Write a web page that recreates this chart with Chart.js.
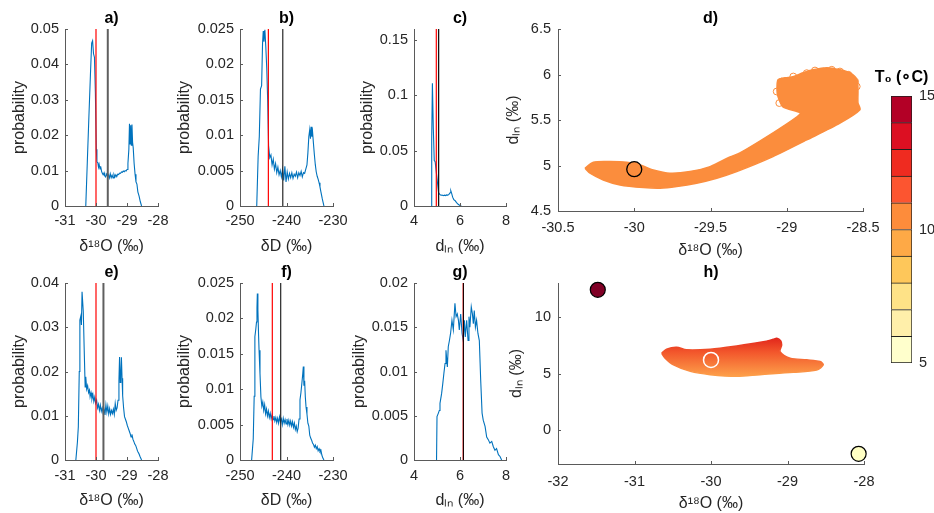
<!DOCTYPE html>
<html><head><meta charset="utf-8">
<script src="https://cdn.jsdelivr.net/npm/chart.js@4.4.0/dist/chart.umd.min.js"></script>
<style>
html,body{margin:0;padding:0;background:#fff;}
#wrap{position:relative;width:934px;height:513px;overflow:hidden;background:#fff;}
#wrap canvas{position:absolute;left:0;top:0;}
</style></head><body>
<div id="wrap">
<canvas id="pa" width="934" height="513"></canvas>
<canvas id="pb" width="934" height="513"></canvas>
<canvas id="pc" width="934" height="513"></canvas>
<canvas id="pd" width="934" height="513"></canvas>
<canvas id="pe" width="934" height="513"></canvas>
<canvas id="pf" width="934" height="513"></canvas>
<canvas id="pg" width="934" height="513"></canvas>
<canvas id="ph" width="934" height="513"></canvas>
<canvas id="pcb" width="934" height="513"></canvas>
</div>
<script>
// ---------------- data ----------------
// a) delta18O histogram
const aX = [-30.33,-30.28,-30.23,-30.18,-30.14,-30.11,-30.08,-30.05,-30.02,-29.99,-29.97,-29.94,-29.92,-29.9,-29.87,-29.85,-29.82,-29.8,-29.77,-29.74,-29.72,-29.69,-29.66,-29.63,-29.6,-29.57,-29.54,-29.51,-29.48,-29.45,-29.42,-29.39,-29.36,-29.33,-29.3,-29.27,-29.24,-29.21,-29.18,-29.15,-29.12,-29.09,-29.06,-29.03,-29.0,-28.97,-28.94,-28.92,-28.9,-28.88,-28.86,-28.84,-28.82,-28.8,-28.77,-28.74,-28.71,-28.68,-28.65,-28.61,-28.57,-28.53];
const aY = [0,0.0125,0.025,0.037,0.046,0.0467,0.043,0.042,0.032,0.016,0.0125,0.0122,0.011,0.0118,0.0105,0.0112,0.0098,0.0093,0.0088,0.0094,0.0085,0.0082,0.009,0.0084,0.0088,0.0079,0.0091,0.008,0.0087,0.0079,0.0089,0.0082,0.0088,0.0083,0.009,0.0089,0.0093,0.0092,0.0096,0.0095,0.0099,0.0097,0.01,0.0099,0.0103,0.012,0.016,0.0232,0.0175,0.0228,0.0172,0.023,0.018,0.0165,0.012,0.009,0.0068,0.0062,0.004,0.0028,0.0012,0];
// b) deltaD histogram
const bX = [-246.4,-246.1,-245.85,-245.6,-245.35,-245.15,-245.0,-244.85,-244.65,-244.45,-244.25,-244.05,-243.85,-243.6,-243.35,-243.1,-242.85,-242.6,-242.35,-242.1,-241.85,-241.6,-241.35,-241.1,-240.85,-240.6,-240.35,-240.1,-239.85,-239.6,-239.35,-239.1,-238.85,-238.6,-238.35,-238.1,-237.85,-237.6,-237.35,-237.1,-236.85,-236.6,-236.35,-236.1,-235.85,-235.6,-235.4,-235.2,-235.0,-234.85,-234.7,-234.55,-234.4,-234.2,-234.0,-233.8,-233.6,-233.4,-233.2,-233.0,-232.8,-232.6,-232.3,-231.95];
const bY = [0,0.007,0.0098,0.0165,0.017,0.023,0.0247,0.0232,0.0249,0.0225,0.0195,0.015,0.0085,0.0068,0.0072,0.0058,0.0066,0.0052,0.006,0.0047,0.0055,0.0044,0.005,0.0041,0.0052,0.0036,0.0056,0.0034,0.0048,0.0038,0.0046,0.004,0.0047,0.0039,0.0045,0.0042,0.0048,0.004,0.0047,0.0043,0.0049,0.0041,0.0047,0.0046,0.0052,0.0058,0.0075,0.0098,0.0108,0.0095,0.0112,0.0098,0.0105,0.0088,0.0072,0.0058,0.0048,0.0042,0.0038,0.0033,0.0027,0.002,0.001,0];
// c) d-ln histogram
const cX = [4.75,4.77,4.8,4.84,4.88,4.92,5.0,5.07,5.12,5.17,5.22,5.27,5.32,5.37,5.42,5.47,5.52,5.57,5.6,5.64,5.68,5.73,5.78,5.85,5.92,6.0,6.06];
const cY = [0,0.06,0.111,0.07,0.041,0.04,0.025,0.012,0.0105,0.0097,0.0099,0.0093,0.0098,0.0094,0.01,0.0098,0.0105,0.012,0.0138,0.0112,0.008,0.0058,0.005,0.003,0.0015,0.0005,0];
// e) delta18O histogram (second case)
const eX = [-30.65,-30.6,-30.57,-30.54,-30.52,-30.49,-30.47,-30.45,-30.43,-30.41,-30.38,-30.35,-30.33,-30.3,-30.27,-30.24,-30.21,-30.19,-30.16,-30.13,-30.1,-30.07,-30.04,-30.01,-29.98,-29.95,-29.92,-29.89,-29.86,-29.83,-29.8,-29.77,-29.74,-29.71,-29.68,-29.65,-29.62,-29.59,-29.56,-29.53,-29.5,-29.47,-29.44,-29.41,-29.38,-29.35,-29.32,-29.29,-29.26,-29.24,-29.22,-29.2,-29.18,-29.16,-29.14,-29.11,-29.08,-29.05,-29.02,-28.99,-28.96,-28.93,-28.9,-28.87,-28.84,-28.81,-28.78,-28.75,-28.72,-28.69,-28.66,-28.62,-28.58,-28.53];
const eY = [0,0.004,0.0075,0.02,0.0316,0.0325,0.0305,0.038,0.038,0.0335,0.0248,0.0165,0.0188,0.016,0.0168,0.0152,0.0158,0.0143,0.0152,0.0138,0.0148,0.0132,0.0142,0.0128,0.0135,0.0118,0.0126,0.0112,0.0124,0.011,0.0118,0.0106,0.0114,0.0102,0.0125,0.0108,0.0122,0.0104,0.0116,0.0103,0.0112,0.0105,0.0115,0.0103,0.0128,0.0112,0.0118,0.0135,0.018,0.0233,0.0175,0.019,0.0232,0.0185,0.0145,0.0118,0.0098,0.0092,0.0086,0.0078,0.0072,0.0066,0.006,0.0052,0.0058,0.0047,0.0042,0.0036,0.0033,0.0027,0.002,0.0015,0.0008,0];
// f) deltaD histogram (second case)
const fX = [-247.5,-247.15,-246.95,-246.8,-246.6,-246.45,-246.35,-246.27,-246.15,-246.0,-245.9,-245.7,-245.5,-245.3,-245.1,-244.9,-244.7,-244.5,-244.3,-244.1,-243.9,-243.7,-243.5,-243.3,-243.1,-242.9,-242.7,-242.5,-242.3,-242.1,-241.9,-241.7,-241.5,-241.3,-241.1,-240.9,-240.7,-240.5,-240.3,-240.1,-239.9,-239.7,-239.5,-239.3,-239.1,-238.9,-238.7,-238.5,-238.3,-238.1,-237.9,-237.7,-237.5,-237.3,-237.1,-236.9,-236.7,-236.5,-236.38,-236.25,-236.1,-235.95,-235.8,-235.6,-235.4,-235.2,-235.0,-234.8,-234.6,-234.4,-234.2,-234.0,-233.8,-233.6,-233.4,-233.2,-233.0,-232.8,-232.6,-232.4,-232.2,-231.95];
const fY = [0,0.003,0.009,0.0174,0.0185,0.0195,0.0215,0.0235,0.0212,0.0175,0.0155,0.0122,0.0089,0.0076,0.0082,0.007,0.0078,0.0065,0.0072,0.0062,0.0069,0.006,0.0066,0.0058,0.0064,0.0057,0.0062,0.0055,0.006,0.0053,0.0059,0.0052,0.0061,0.0054,0.0058,0.005,0.0059,0.0052,0.0057,0.0051,0.0058,0.005,0.0056,0.0049,0.0055,0.0048,0.0054,0.0046,0.0052,0.0043,0.0048,0.004,0.0045,0.0058,0.0085,0.0095,0.0108,0.0122,0.0132,0.0105,0.0112,0.0089,0.0075,0.0065,0.0052,0.0048,0.0035,0.0031,0.0028,0.0024,0.0022,0.0018,0.0021,0.0016,0.0019,0.0013,0.0016,0.0012,0.0014,0.0007,0.0003,0];
// g) d-ln histogram (second case)
const gX = [4.98,5.0,5.06,5.1,5.13,5.2,5.25,5.3,5.35,5.39,5.45,5.49,5.54,5.59,5.65,5.71,5.78,5.83,5.88,5.93,5.97,6.03,6.09,6.14,6.19,6.23,6.29,6.35,6.39,6.43,6.49,6.54,6.58,6.62,6.67,6.72,6.78,6.84,6.9,6.96,7.01,7.09,7.16,7.23,7.3,7.38,7.45,7.52,7.59,7.67,7.74,7.81];
const gY = [0,0.0049,0.0053,0.0056,0.0064,0.0075,0.0086,0.0098,0.0109,0.0124,0.0105,0.0128,0.0135,0.0143,0.0158,0.0147,0.0177,0.0162,0.0165,0.0158,0.0147,0.0165,0.0143,0.0135,0.0158,0.0139,0.0158,0.0135,0.0162,0.015,0.0173,0.0165,0.0154,0.0169,0.015,0.0158,0.0143,0.0135,0.009,0.0053,0.0045,0.0038,0.0026,0.0023,0.0019,0.0021,0.0015,0.0011,0.0013,0.0006,0.0004,0];
// vertical reference lines: [red, mean]
const aLines = [-30.0, -29.62];
const bLines = [-243.9, -240.8];
const cLines = [4.97, 5.07];
const eLines = [-30.0, -29.76];
const fLines = [-243.05, -241.25];
const gLines = [6.14, 6.15];
// d) scatter cloud outline (delta18O, d-ln)
const dCloudX = [-30.323,-30.29,-30.203,-30.093,-29.94,-29.831,-29.722,-29.591,-29.459,-29.328,-29.09,-28.869,-28.651,-28.52,-28.533,-28.533,-28.539,-28.585,-28.651,-28.736,-28.828,-28.893,-28.959,-29.011,-29.057,-29.064,-29.057,-29.025,-28.911,-28.933,-29.09,-29.307,-29.372,-29.503,-29.634,-29.766,-29.875,-29.962,-30.05,-30.159,-30.268,-30.323];
const dCloudY = [4.970,4.915,4.841,4.786,4.757,4.75,4.768,4.805,4.86,4.933,5.098,5.281,5.465,5.612,5.689,5.832,5.942,6.019,6.052,6.074,6.052,6.019,5.975,5.964,5.942,5.832,5.755,5.645,5.579,5.535,5.359,5.138,5.094,4.988,4.933,4.915,4.951,5.006,5.036,5.043,5.036,4.970];
// d) individual open circles on the edge of the cloud
const dEdgeX = [-29.033,-29.066,-29.049,-29.0,-28.957,-28.869,-28.815,-28.76,-28.705,-28.651,-28.596,-28.552,-28.541];
const dEdgeY = [5.923,5.813,5.686,5.906,5.978,6.015,6.044,6.033,6.052,6.033,5.997,5.923,5.868];
const dMarkX = [-30.0];
const dMarkY = [4.96];
// h) scatter cloud outline
const hCloudX = [-30.645,-30.58,-30.45,-30.32,-30.01,-29.664,-29.316,-29.186,-29.14,-29.09,-29.076,-29.098,-28.967,-28.75,-28.575,-28.532,-28.62,-28.924,-29.36,-29.664,-30.01,-30.27,-30.49,-30.6,-30.645];
const hCloudY = [6.80,7.15,7.32,7.09,7.15,7.44,7.81,8.02,8.11,7.9,7.52,6.93,6.36,6.21,6.06,5.77,5.3,5.1,4.9,4.75,4.9,5.19,5.77,6.36,6.80];
const hWarm = {x:-31.48, y:12.4};
const hCold = {x:-28.07, y:-2.1};
const hRing = {x:-30.0, y:6.2};
// colour bar
const cbEdges = [5,6,7,8,9,10,11,12,13,14,15];
const cbColors = ['#ffffcc','#ffefaa','#fee287','#fec75a','#fea946','#fd8c3b','#fc5530','#ef2b20','#dc0f22','#b30026'];
const cbTicks = [5,10,15];

// ---------------- helpers ----------------
const FONT = '"Liberation Sans", Arial, Helvetica, sans-serif';
Chart.defaults.font.family = FONT;
Chart.defaults.color = '#262626';
Chart.defaults.animation = false;
Chart.defaults.events = [];

const panelTitle = {
  id: 'panelTitle',
  afterDraw(chart, args, opts) {
    if (!opts || !opts.text) return;
    const {ctx, chartArea} = chart;
    ctx.save();
    ctx.font = 'bold 16px ' + FONT;
    ctx.fillStyle = '#000';
    ctx.textAlign = 'center';
    ctx.textBaseline = 'middle';
    ctx.fillText(opts.text, (chartArea.left + chartArea.right) / 2 + (opts.dx || 0), chartArea.top + opts.dy);
    ctx.restore();
  }
};
const inTicks = {
  id: 'inTicks',
  afterDraw(chart, args, opts) {
    if (!opts || !opts.on) return;
    const {ctx, chartArea: a, scales} = chart;
    ctx.save();
    ctx.strokeStyle = '#5a5a5a';
    ctx.lineWidth = 1;
    scales.x.ticks.forEach(t => {
      const p = Math.round(scales.x.getPixelForValue(t.value)) + 0.5;
      ctx.beginPath(); ctx.moveTo(p, a.bottom); ctx.lineTo(p, a.bottom - 3); ctx.stroke();
    });
    scales.y.ticks.forEach(t => {
      const p = Math.round(scales.y.getPixelForValue(t.value)) + 0.5;
      ctx.beginPath(); ctx.moveTo(a.left, p); ctx.lineTo(a.left + 3, p); ctx.stroke();
    });
    ctx.restore();
  }
};
Chart.register(panelTitle, inTicks);

function xy(xs, ys) { return xs.map((x, i) => ({x: x, y: ys[i]})); }
function fmt(v) { return String(Math.round(v * 10000) / 10000); }

function axis(o) {
  return {
    type: 'linear', position: o.pos, min: o.min, max: o.max,
    afterBuildTicks: s => { s.ticks = o.ticks.map(v => ({value: v})); },
    afterFit: s => { if (o.pos === 'bottom') s.height = o.fixed; else s.width = o.fixed; },
    grid: {display: false, drawTicks: false},
    border: {display: true, color: '#5a5a5a', width: 1},
    ticks: {font: {size: 14.5}, color: '#262626', padding: o.pad, autoSkip: false, maxRotation: 0, minRotation: 0, callback: v => fmt(v)},
    title: {display: true, text: o.title, font: {size: 16}, color: '#262626', padding: 0}
  };
}

function panel(id, rect, xo, yo, datasets, title) {
  const [L, T, R, B] = rect;
  return new Chart(document.getElementById(id), {
    type: 'scatter',
    data: {datasets: datasets},
    options: {
      responsive: false, animation: false,
      layout: {padding: {left: L - yo.fixed, right: 934 - R, top: T, bottom: 513 - B - xo.fixed}},
      scales: {x: axis(Object.assign({pos: 'bottom'}, xo)), y: axis(Object.assign({pos: 'left'}, yo))},
      plugins: {legend: {display: false}, tooltip: {enabled: false}, panelTitle: {text: title, dy: -10}, inTicks: {on: true}}
    }
  });
}

function histSets(xs, ys, lines, yMax, meanColor, meanWidth) {
  return [
    {type: 'line', data: [{x: lines[1], y: 0}, {x: lines[1], y: yMax}], borderColor: meanColor, borderWidth: meanWidth, pointRadius: 0, fill: false},
    {type: 'line', data: [{x: lines[0], y: 0}, {x: lines[0], y: yMax}], borderColor: '#ff0000', borderWidth: 1.2, pointRadius: 0, fill: false},
    {type: 'line', data: xy(xs, ys), borderColor: '#0072BD', borderWidth: 1.1, pointRadius: 0, tension: 0, fill: false}
  ];
}

const O18 = 'δ¹⁸O (‰)', DD = 'δD (‰)', DLN = 'dₗₙ (‰)', PROB = 'probability';

// a
panel('pa', [65, 29, 158, 206],
  {min: -31, max: -28, ticks: [-31, -30, -29, -28], title: O18, fixed: 50.6, pad: 6},
  {min: 0, max: 0.05, ticks: [0, 0.01, 0.02, 0.03, 0.04, 0.05], title: PROB, fixed: 54.6, pad: 6},
  histSets(aX, aY, aLines, 0.05, '#5f5f5f', 2), 'a)');
// b
panel('pb', [240, 29, 333, 206],
  {min: -250, max: -230, ticks: [-250, -240, -230], title: DD, fixed: 50.6, pad: 6},
  {min: 0, max: 0.025, ticks: [0, 0.005, 0.01, 0.015, 0.02, 0.025], title: PROB, fixed: 64.6, pad: 6},
  histSets(bX, bY, bLines, 0.025, '#262626', 1.2), 'b)');
// c
panel('pc', [414, 29, 506, 206],
  {min: 4, max: 8, ticks: [4, 6, 8], title: DLN, fixed: 50.6, pad: 6},
  {min: 0, max: 0.16, ticks: [0, 0.05, 0.1, 0.15], title: PROB, fixed: 55.6, pad: 6},
  histSets(cX, cY, cLines, 0.16, '#111111', 1.3), 'c)');
// e
panel('pe', [65, 283, 158, 460],
  {min: -31, max: -28, ticks: [-31, -30, -29, -28], title: O18, fixed: 50.6, pad: 7},
  {min: 0, max: 0.04, ticks: [0, 0.01, 0.02, 0.03, 0.04], title: PROB, fixed: 54.6, pad: 6},
  histSets(eX, eY, eLines, 0.04, '#5f5f5f', 2), 'e)');
// f
panel('pf', [240, 283, 333, 460],
  {min: -250, max: -230, ticks: [-250, -240, -230], title: DD, fixed: 50.6, pad: 7},
  {min: 0, max: 0.025, ticks: [0, 0.005, 0.01, 0.015, 0.02, 0.025], title: PROB, fixed: 64.6, pad: 6},
  histSets(fX, fY, fLines, 0.025, '#262626', 1.2), 'f)');
// g
panel('pg', [414, 283, 506, 460],
  {min: 4, max: 8, ticks: [4, 6, 8], title: DLN, fixed: 50.6, pad: 7},
  {min: 0, max: 0.02, ticks: [0, 0.005, 0.01, 0.015, 0.02], title: PROB, fixed: 63.6, pad: 6},
  histSets(gX, gY, gLines, 0.02, '#1a0000', 1.1), 'g)');

// d
const ORANGE = '#fb8d3d';
panel('pd', [558, 29, 863, 211],
  {min: -30.5, max: -28.5, ticks: [-30.5, -30, -29.5, -29, -28.5], title: O18, fixed: 49.6, pad: 8},
  {min: 4.5, max: 6.5, ticks: [4.5, 5, 5.5, 6, 6.5], title: DLN, fixed: 53.6, pad: 7},
  [
    {type: 'scatter', data: xy(dMarkX, dMarkY), pointRadius: 7.5, pointBackgroundColor: ORANGE, pointBorderColor: '#000', pointBorderWidth: 1.3, clip: false},
    {type: 'scatter', data: xy(dEdgeX, dEdgeY), pointRadius: 3.4, pointBackgroundColor: 'rgba(0,0,0,0)', pointBorderColor: ORANGE, pointBorderWidth: 1, clip: false},
    {type: 'line', data: xy(dCloudX, dCloudY), borderColor: ORANGE, backgroundColor: ORANGE, borderWidth: 1.5, pointRadius: 0, tension: 0.25, fill: 'shape', clip: false}
  ], 'd)');

// h
function hGradient(ctx) {
  const chart = ctx.chart;
  const {chartArea, scales} = chart;
  if (!chartArea) return '#f47a35';
  const y1 = scales.y.getPixelForValue(8.1), y0 = scales.y.getPixelForValue(4.75);
  const g = chart.ctx.createLinearGradient(0, y1, 0, y0);
  g.addColorStop(0, '#e2281c');
  g.addColorStop(0.35, '#f2552b');
  g.addColorStop(1, '#fda04a');
  return g;
}
panel('ph', [558, 283, 864, 464],
  {min: -32, max: -28, ticks: [-32, -31, -30, -29, -28], title: O18, fixed: 49, pad: 9.5},
  {min: -3, max: 13, ticks: [0, 5, 10], title: DLN, fixed: 50.6, pad: 7},
  [
    {type: 'scatter', data: [hRing], pointRadius: 7.5, pointBackgroundColor: 'rgba(0,0,0,0)', pointBorderColor: '#ffffff', pointBorderWidth: 1.5, clip: false},
    {type: 'scatter', data: [hWarm], pointRadius: 7.5, pointBackgroundColor: '#800026', pointBorderColor: '#000', pointBorderWidth: 1.2, clip: false},
    {type: 'scatter', data: [hCold], pointRadius: 7.5, pointBackgroundColor: '#ffffc4', pointBorderColor: '#000', pointBorderWidth: 1.2, clip: false},
    {type: 'line', data: xy(hCloudX, hCloudY), borderColor: hGradient, backgroundColor: hGradient, borderWidth: 1.5, pointRadius: 0, tension: 0.3, fill: 'shape'}
  ], 'h)');

// colour bar
new Chart(document.getElementById('pcb'), {
  type: 'bar',
  data: {
    labels: [''],
    datasets: cbColors.map((c, i) => ({
      data: [[cbEdges[i], cbEdges[i + 1]]],
      backgroundColor: c, borderColor: '#1e1e1e',
      borderWidth: {top: 1, bottom: i === 0 ? 1 : 0, left: 1, right: 1},
      borderSkipped: false, grouped: false, barPercentage: 1, categoryPercentage: 1
    }))
  },
  options: {
    responsive: false, animation: false,
    layout: {padding: {left: 891, right: 934 - 912 - 25, top: 96, bottom: 513 - 363}},
    scales: {
      x: {display: false},
      y: {
        position: 'right', min: 5, max: 15,
        afterBuildTicks: s => { s.ticks = cbTicks.map(v => ({value: v})); },
        afterFit: s => { s.width = 25; },
        grid: {display: false, drawTicks: false},
        border: {display: false},
        ticks: {font: {size: 14.5}, color: '#262626', padding: 7, callback: v => fmt(v)}
      }
    },
    plugins: {legend: {display: false}, tooltip: {enabled: false}, panelTitle: {text: 'T₀ (∘C)', dy: -18}}
  }
});
</script>
</body></html>
